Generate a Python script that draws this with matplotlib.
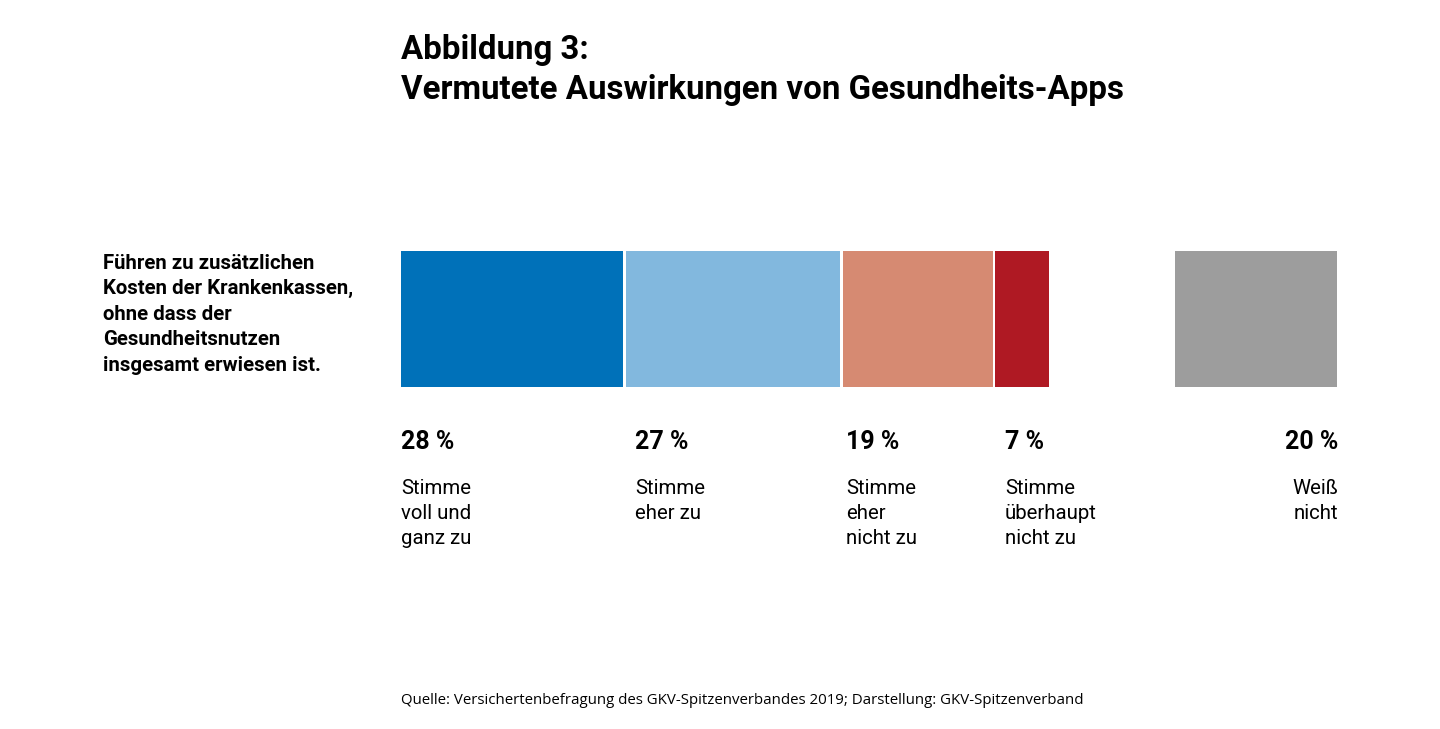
import matplotlib
matplotlib.use('Agg')
from matplotlib import pyplot as plt

plt.rcParams['font.family'] = ['Roboto', 'DejaVu Sans']

# werte aus der abbildung
anteile = [28, 27, 19, 7]
anteil_weiss = 20
farben = ['#0071b9', '#82b8de', '#d68a72', '#af1923']
farbe_weiss = '#9d9d9d'
prozent_labels = ['28 %', '27 %', '19 %', '7 %']
antworten = ['Stimme\nvoll und\nganz zu', 'Stimme\neher zu', 'Stimme\neher\nnicht zu', 'Stimme\nüberhaupt\nnicht zu']
frage = 'Führen zu zusätzlichen\nKosten der Krankenkassen,\nohne dass der\nGesundheitsnutzen\ninsgesamt erwiesen ist.'
titel = 'Abbildung 3:\nVermutete Auswirkungen von Gesundheits-Apps'
quelle = 'Quelle: Versichertenbefragung des GKV-Spitzenverbandes 2019; Darstellung: GKV-Spitzenverband'
label_x = [401, 635, 846, 1005]

B, H = 1440, 729
fig = plt.figure(figsize=(B / 100, H / 100), dpi=100, facecolor='white')

# achse in pixeln der abbildung
ax = fig.add_axes([0, 0, 1, 1])
ax.set_xlim(0, B)
ax.set_ylim(H, 0)
ax.axis('off')

# balken
skala = 8.03
luecke = 2.5
links = 401
for wert, farbe in zip(anteile, farben):
    ax.barh(319, wert * skala - luecke, height=136, left=links, color=farbe)
    links += wert * skala

ax.barh(319, anteil_weiss * 8.1, height=136, left=1175, color=farbe_weiss)

# beschriftung unter den balken
for x, p, a in zip(label_x, prozent_labels, antworten):
    ax.text(x, 442, p, fontsize=18, fontweight='bold', va='center', ha='left', color='black')
    for i, zeile in enumerate(a.split('\n')):
        ax.text(x, 488 + i * 25.5, zeile, fontsize=14.7, va='center', ha='left', color='black')

ax.text(1338, 442, '20 %', fontsize=18, fontweight='bold', va='center', ha='right', color='black')
ax.text(1338, 488, 'Weiß', fontsize=14.7, va='center', ha='right', color='black')
ax.text(1338, 513.5, 'nicht', fontsize=14.7, va='center', ha='right', color='black')

for i, zeile in enumerate(frage.split('\n')):
    ax.text(103, 263 + i * 25.5, zeile, fontsize=14.7, fontweight='bold', va='center', ha='left', color='black')

for i, zeile in enumerate(titel.split('\n')):
    ax.text(401, 49.5 + i * 40, zeile, fontsize=23.8, fontweight='bold', va='center', ha='left', color='black')

ax.text(401, 700.5, quelle, fontsize=10.78, va='center', ha='left', color='black', family=['Open Sans', 'DejaVu Sans'])

fig.savefig('out.png', dpi=100)
